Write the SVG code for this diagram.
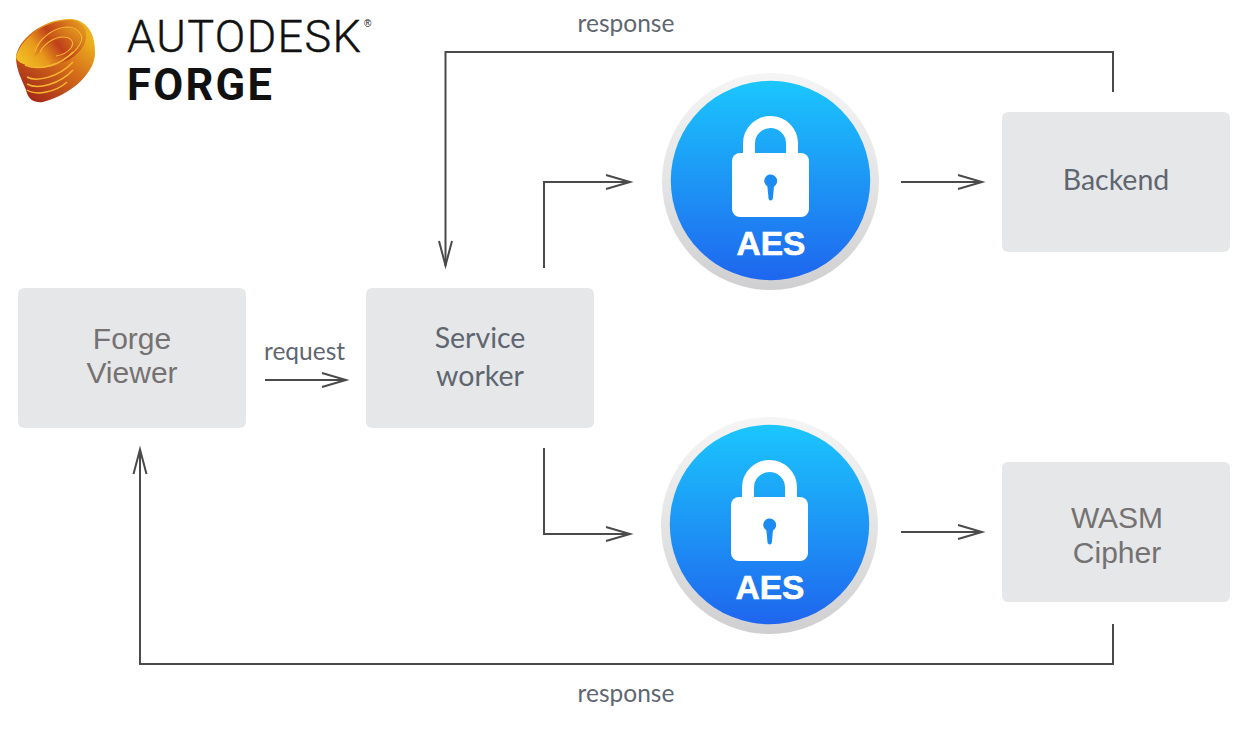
<svg xmlns="http://www.w3.org/2000/svg" width="1238" height="734" viewBox="0 0 1238 734">
<style>
.box{fill:#e6e7e9}
.lbl{font-family:Lato,"Liberation Sans",sans-serif;font-size:28.500px;fill:#5f6670;text-anchor:middle}
.arial{font-family:"Liberation Sans",Arial,sans-serif;font-size:30px;fill:#757272;text-anchor:middle}
.small{font-family:Lato,"Liberation Sans",sans-serif;font-size:24.500px;fill:#5f6670;text-anchor:middle}
.aes{font-family:"Liberation Sans",Arial,sans-serif;font-size:33.500px;font-weight:700;fill:#fff;stroke:#fff;stroke-width:.6;text-anchor:middle}
.c{fill:none;stroke:#4a4a4a;stroke-width:2}
.h{fill:none;stroke:#4a4a4a;stroke-width:2}
</style>
<defs>
<linearGradient id="blue" x1="0" y1="0" x2="0" y2="1"><stop offset="0" stop-color="#1bc6fd"/><stop offset="1" stop-color="#1f66ee"/></linearGradient>
<linearGradient id="ring" x1="0" y1="0" x2="0" y2="1"><stop offset="0" stop-color="#f5f5f5"/><stop offset="0.5" stop-color="#e4e4e4"/><stop offset="1" stop-color="#cfcfd1"/></linearGradient>
<linearGradient id="logoA" x1="0.85" y1="0.2" x2="0.25" y2="1"><stop offset="0" stop-color="#ecb01e"/><stop offset="0.4" stop-color="#d6701a"/><stop offset="1" stop-color="#a52a18"/></linearGradient>
<linearGradient id="logoB" x1="0" y1="0.7" x2="1" y2="0.2"><stop offset="0" stop-color="#f0bd22"/><stop offset="0.28" stop-color="#e8981c"/><stop offset="0.55" stop-color="#bf3f19"/><stop offset="1" stop-color="#e59a20"/></linearGradient>
<linearGradient id="logoC" x1="0" y1="1" x2="1" y2="0"><stop offset="0" stop-color="#eeaf1e"/><stop offset="0.5" stop-color="#c24a19"/><stop offset="1" stop-color="#e8a01e"/></linearGradient>
<g id="lock">
<circle cx="0.500" cy="0.500" r="108.500" fill="url(#ring)"/>
<circle cx="0.500" cy="-0.500" r="99.700" fill="url(#blue)"/>
<path d="M-21 -27V-37.500A21.500 21.500 0 0 1 22 -37.500V-27" fill="none" stroke="#fff" stroke-width="12"/>
<rect x="-38" y="-28" width="77" height="64" rx="8" fill="#fff"/>
<path d="M-5.800 0.500A6.500 6.500 0 1 1 4 5.500L2.800 18Q0.700 21 -1.400 18L-2.600 5.500A6.500 6.500 0 0 1 -5.800 0.500Z" fill="#1c8cf2"/>
<text class="aes" x="1" y="73.500">AES</text>
</g>
</defs>
<g id="logo">
<path d="M16 57C18 40 42 18 72 19C88 21 96 35 95 55C93 75 70 95 43 102C35 103 28 100 26 90C22 80 16 70 16 57Z" fill="url(#logoA)"/>
<path d="M16 57C20 40 45 19 72 20C84 22 90 32 84 45C76 60 50 72 30 66C22 64 17 62 16 57Z" fill="url(#logoB)"/>
<path d="M34 58C36 44 48 31 66 28C78 27 84 37 78 47C72 56 60 62 48 64C60 56 72 50 73 42C72 36 62 36 52 42C44 47 40 52 34 58Z" fill="url(#logoC)"/>
<g fill="none" stroke="#f7b733" stroke-width="1.500">
<path d="M25 65C38 71 60 66 73 52"/>
<path d="M27 77C36 82 58 78 73 62"/>
<path d="M27 84C38 90 60 84 73 70"/>
<path d="M27 90C36 96 56 92 67 82"/>
<path d="M35 52C38 40 52 28 67 27C78 27 85 36 80 44C76 51 70 56 64 59" stroke-width="1.100"/>
<path d="M40 52C44 44 54 37 63 37C71 37 75 42 71 48C68 52 62 55 56 56" stroke-width="1.100"/>
</g>
<text x="127" y="52" font-family="Roboto,'Liberation Sans',sans-serif" font-size="45" font-weight="300" fill="#111" stroke="#111" stroke-width=".4" textLength="234">AUTODESK</text>
<text x="364" y="27" font-family="'Liberation Sans',sans-serif" font-size="10" fill="#111">®</text>
<text x="127" y="100" font-family="Roboto,'Liberation Sans',sans-serif" font-size="43.500" font-weight="700" fill="#111" textLength="145">FORGE</text>
</g>
<g id="forge-viewer"><rect class="box" x="18" y="288" width="228" height="140" rx="6"/><text class="arial" x="132" y="349">Forge</text><text class="arial" x="132" y="383">Viewer</text></g>
<g id="service-worker"><rect class="box" x="366" y="288" width="228" height="140" rx="6"/><text class="lbl" x="480" y="348">Service</text><text class="lbl" x="480" y="386">worker</text></g>
<g id="backend"><rect class="box" x="1002" y="112" width="228" height="140" rx="6"/><text class="lbl" x="1116" y="190">Backend</text></g>
<g id="wasm-cipher"><rect class="box" x="1002" y="462" width="228" height="140" rx="6"/><text class="arial" x="1117" y="528">WASM</text><text class="arial" x="1117" y="563">Cipher</text></g>
<g id="aes-top"><use href="#lock" x="770" y="181"/></g>
<g id="aes-bottom"><use href="#lock" x="769" y="525"/></g>
<g id="connectors">
<path class="c" d="M1113 92V52H445.500V266"/><path class="h" d="M439 241L445.500 265.500L452 241"/>
<path class="c" d="M544 268V182H630"/><path class="h" d="M606 175L630 182L606 189"/>
<path class="c" d="M901 182H982"/><path class="h" d="M958 175L982 182L958 189"/>
<path class="c" d="M265 380H346"/><path class="h" d="M322 373L346 380L322 387"/>
<path class="c" d="M544 448V534H630"/><path class="h" d="M606 527L630 534L606 541"/>
<path class="c" d="M901 532H982"/><path class="h" d="M958 525L982 532L958 539"/>
<path class="c" d="M1113 624V664H140V450"/><path class="h" d="M133.500 474L140 449.500L146.500 474"/>
</g>
<text class="small" x="626" y="32">response</text>
<text class="small" x="304.500" y="360">request</text>
<text class="small" x="626" y="702">response</text>
</svg>
